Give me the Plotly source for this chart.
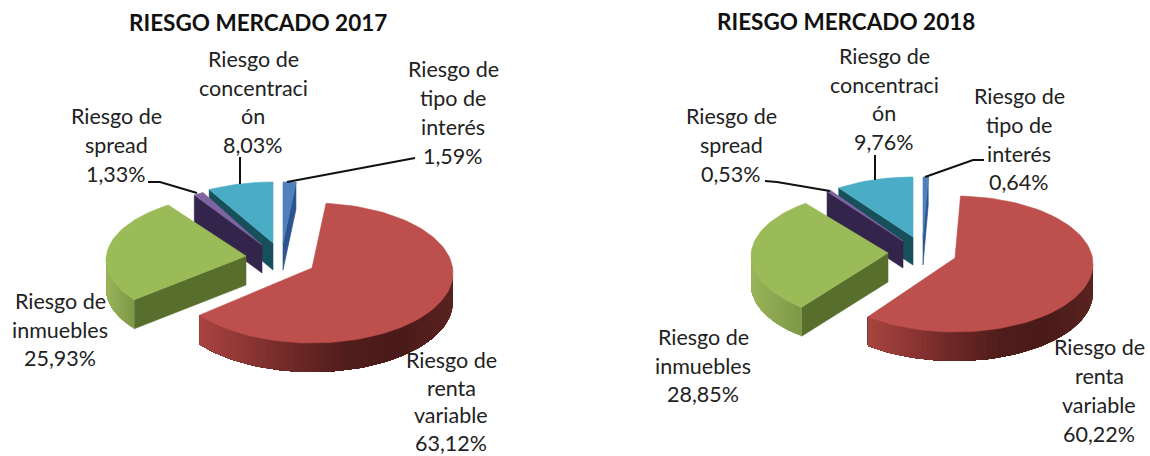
import numpy as np
import plotly.graph_objects as go

# ---- data -------------------------------------------------------------
categories = ["Riesgo de tipo de interés", "Riesgo de renta variable",
              "Riesgo de inmuebles", "Riesgo de spread", "Riesgo de concentración"]
values_2017 = [1.59, 63.12, 25.93, 1.33, 8.03]
values_2018 = [0.64, 60.22, 28.85, 0.53, 9.76]
titles = ["RIESGO MERCADO 2017", "RIESGO MERCADO 2018"]
label_lines = [["Riesgo de", "tipo de", "interés"],
               ["Riesgo de", "renta", "variable"],
               ["Riesgo de", "inmuebles"],
               ["Riesgo de", "spread"],
               ["Riesgo de", "concentraci", "ón"]]

# ---- styles / layout (canvas is addressed in picture units) ------------
W, H = 1150, 456
FONT = "Lato, Carlito, Calibri, sans-serif"
TEXT = "#222222"
top_colors = ["#4f81bd", "#bd4f4c", "#9bbb59", "#8064a2", "#4bacc6"]
face_colors = ["#2c5590", "#7d2f2d", "#586e2c", "#32244a", "#174f5a"]
rim_stops = [["#2c5590", "#2c5590"],
             ["#a8443f", "#8a3533", "#6a2725", "#4f1d1c", "#4a1b1a", "#5a2321"],
             ["#9ab55a", "#7f9a47"],
             ["#32244a", "#32244a"],
             ["#174f5a", "#174f5a"]]
draw_order = [0, 4, 3, 2, 1]

# per slice: apex x, apex y, rim-centre y, rx, ry, depth
geom_2017 = [(283, 243, 243, 130, 61, 27), (312, 268, 273, 141, 70, 29),
             (246, 256, 260, 140, 66, 29), (262, 245, 245, 122, 60, 28),
             (273, 243, 243, 132, 61, 27)]
geom_2018 = [(923, 237, 237, 130, 60, 28), (955, 258, 264, 138, 68, 29),
             (888, 253, 256, 137, 66, 29), (903, 241, 241, 126, 62, 27),
             (913, 237, 237, 129, 60, 28)]

title_pos = [(258, 22), (846, 21)]
# per slice: centre x, first line y, line pitch
label_pos_2017 = [(453, 69, 29), (451, 360, 27.5), (60, 301, 28.5), (116, 116, 29), (253, 59, 28.7)]
label_pos_2018 = [(1019, 96, 28.8), (1099, 347, 29), (703, 337, 28.5), (731, 116, 29), (884, 56, 28.7)]
leaders = [[(287, 182), (415, 158)], [(240, 184), (240, 157)],
           [(148, 182), (160, 182), (197, 193)],
           [(925, 177), (973, 160), (984, 160)], [(875, 180), (875, 155)],
           [(765, 181), (777, 182), (830, 191)]]


def hex_rgb(c):
    return np.array([int(c[i:i + 2], 16) for i in (1, 3, 5)], float)


def ramp(stops, t):
    p = np.clip(t, 0, 1) * (len(stops) - 1)
    i = min(int(p), len(stops) - 2)
    c = hex_rgb(stops[i]) * (1 - (p - i)) + hex_rgb(stops[i + 1]) * (p - i)
    return "rgb(%d,%d,%d)" % tuple(c)


def poly(xs, ys, color, name=None, lw=0.6):
    return go.Scatter(x=list(xs) + [xs[0]], y=list(ys) + [ys[0]], mode="lines", fill="toself",
                      fillcolor=color, line=dict(color=color, width=lw),
                      hoverinfo="text" if name else "skip", text=name, showlegend=False)


fig = go.Figure()


def draw_pie(values, geom):
    ends = np.cumsum(values) / np.sum(values) * 2 * np.pi
    starts = np.concatenate([[0], ends[:-1]])
    for k in draw_order:
        ax, ay, cy, rx, ry, d = geom[k]
        th = np.linspace(starts[k], ends[k], max(3, int((ends[k] - starts[k]) / 0.04) + 2))
        rim_x = ax + rx * np.sin(th)
        rim_y = cy - ry * np.cos(th)
        # visible walls: the edges that run leftwards on the clockwise outline
        if rim_x[0] < ax:
            fig.add_trace(poly([ax, rim_x[0], rim_x[0], ax], [ay, rim_y[0], rim_y[0] + d, ay + d], face_colors[k]))
        if rim_x[-1] > ax:
            fig.add_trace(poly([rim_x[-1], ax, ax, rim_x[-1]], [rim_y[-1], ay, ay + d, rim_y[-1] + d], face_colors[k]))
        front = [i for i in range(len(th) - 1) if rim_x[i + 1] < rim_x[i]]
        if front:
            xlo, xhi = rim_x[front].min(), rim_x[front].max()
            # overlapping runs, right to left, so that neighbouring bands leave no seam
            last = front[-1] + 1
            for i in front:
                t = (rim_x[i] - xlo) / max(xhi - xlo, 1)
                xs = list(rim_x[i:last + 1]) + list(rim_x[i:last + 1][::-1])
                ys = list(rim_y[i:last + 1]) + list((rim_y[i:last + 1] + d)[::-1])
                fig.add_trace(poly(xs, ys, ramp(rim_stops[k], t), lw=0))
        fig.add_trace(poly([ax] + list(rim_x), [ay] + list(rim_y), top_colors[k],
                           "%s: %.2f%%" % (categories[k], values[k])))


def draw_labels(values, pos):
    for k, (x, y, pitch) in enumerate(pos):
        lines = label_lines[k] + [("%.2f%%" % values[k]).replace(".", ",")]
        for j, line in enumerate(lines):
            fig.add_annotation(x=x, y=y + j * pitch, text=line, showarrow=False, xref="x", yref="y",
                               xanchor="center", yanchor="middle",
                               font=dict(family=FONT, size=21.5, color=TEXT))


draw_pie(values_2017, geom_2017)
draw_pie(values_2018, geom_2018)
for path in leaders:
    fig.add_trace(go.Scatter(x=[p[0] for p in path], y=[p[1] for p in path], mode="lines",
                             line=dict(color="#111111", width=2), hoverinfo="skip", showlegend=False))
draw_labels(values_2017, label_pos_2017)
draw_labels(values_2018, label_pos_2018)
for t, (x, y) in zip(titles, title_pos):
    fig.add_annotation(x=x, y=y, text="<b>%s</b>" % t, showarrow=False, xref="x", yref="y",
                       xanchor="center", yanchor="middle", font=dict(family=FONT, size=22.5, color="#111111"))

fig.update_layout(width=W, height=H, margin=dict(l=0, r=0, t=0, b=0), autosize=False,
                  paper_bgcolor="white", plot_bgcolor="white", showlegend=False,
                  xaxis=dict(range=[0, W], visible=False, fixedrange=True),
                  yaxis=dict(range=[H, 0], visible=False, fixedrange=True))
fig.write_html("out.html", config={"displayModeBar": False},
               post_script="document.body.style.margin='0';")
